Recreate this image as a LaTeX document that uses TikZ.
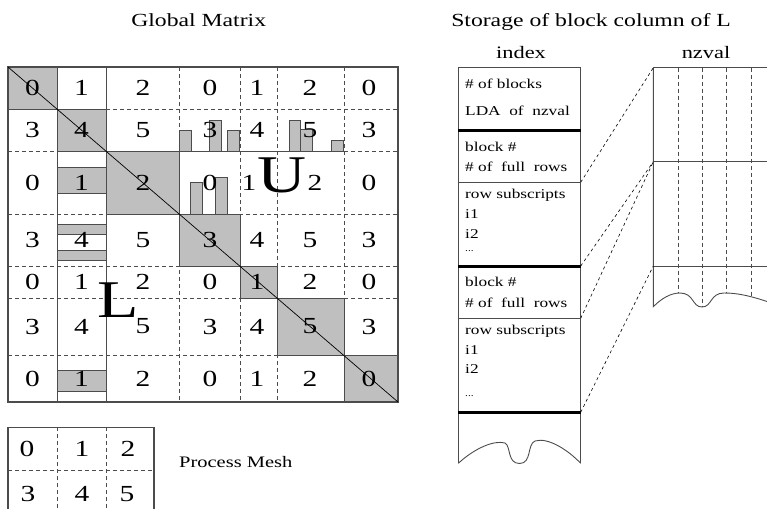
\documentclass[tikz,border=0pt]{standalone}
\usepackage{fontspec}
\setmainfont{Liberation Serif}[FakeStretch=1.28]
\definecolor{blockgray}{gray}{0.75}
\definecolor{rulegray}{gray}{0.3}
\tikzset{
  cellfill/.style={fill=blockgray},
  cellbox/.style={draw=rulegray, line width=0.9pt},
  barbox/.style={fill=blockgray, draw=rulegray, line width=0.8pt},
  gridsolid/.style={draw=rulegray, line width=0.9pt},
  griddash/.style={draw=rulegray, line width=0.8pt, dash pattern=on 4pt off 3pt},
  digit/.style={inner sep=0pt, font=\fontsize{23}{25}\selectfont},
  bigletter/.style={inner sep=0pt, font=\fontsize{53}{56}\selectfont},
  title/.style={inner sep=0pt, anchor=base, font=\fontsize{18.5}{20}\selectfont},
  colhead/.style={inner sep=0pt, anchor=base, font=\fontsize{17.5}{19}\selectfont},
  idxtext/.style={inner sep=0pt, anchor=base west, font=\fontsize{13.5}{15}\selectfont},
  heavyrule/.style={draw=black, line width=3pt},
  lightrule/.style={draw=rulegray, line width=0.9pt},
  linkline/.style={draw=black, line width=0.6pt, dash pattern=on 3pt off 3pt},
}
\begin{document}
\begin{tikzpicture}[x=1pt,y=-1pt]
\path[use as bounding box] (0,0) rectangle (767,508);
\clip (0,0) rectangle (767,508);

% ---------- titles ----------
\node[title] (tglobal) at (198.7,26.7) {Global Matrix};
\node[title] (tstore) at (591,26.7) {Storage of block column of L};
\node[colhead] (tindex) at (521,58.3) {index};
\node[colhead] (tnzval) at (706,58.3) {nzval};

% ---------- global matrix ----------
\coordinate (mtl) at (8,67);
\coordinate (mbr) at (398,402);

% diagonal blocks (fill)
\foreach \xa/\ya/\xb/\yb in {8/67/57/109, 57/109/106/151, 106/151/179/214,
    179/214/240/266, 240/266/277/298, 277/298/344/355, 344/355/398/402}
  \fill[cellfill] (\xa,\ya) rectangle (\xb,\yb);

% dashed grid
\foreach \x in {179,240,277,344}
  \draw[griddash] (\x,67) -- (\x,402);
\foreach \y in {109,151,214,266,298,355}
  \draw[griddash] (8,\y) -- (398,\y);

% solid grid lines
\draw[gridsolid] (57,67) -- (57,402);
\draw[gridsolid] (106,67) -- (106,402);
\draw[gridsolid] (106,151) -- (344,151);

% diagonal block outlines
\foreach \xa/\ya/\xb/\yb in {8/67/57/109, 57/109/106/151, 106/151/179/214,
    179/214/240/266, 240/266/277/298, 277/298/344/355, 344/355/398/402}
  \draw[cellbox] (\xa,\ya) rectangle (\xb,\yb);

% row bars of L
\draw[barbox] (57,167) rectangle (106,193.3);
\draw[barbox] (57,224) rectangle (106,234.3);
\draw[barbox] (57,250) rectangle (106,260);
\draw[barbox] (57,370) rectangle (106,391.7);

% column bars of U
\draw[barbox] (179,130.7) rectangle (191,151);
\draw[barbox] (209.3,120) rectangle (221.7,151);
\draw[barbox] (227.3,130.7) rectangle (239.3,151);
\draw[barbox] (289,120) rectangle (300.7,151);
\draw[barbox] (300.7,129) rectangle (312.7,151);
\draw[barbox] (331,140.7) rectangle (343.3,151);
\draw[barbox] (190.7,182.3) rectangle (202.7,214);
\draw[barbox] (215,177.3) rectangle (227.3,214);

% outer frame
\draw[gridsolid, line width=1.1pt] (mtl) rectangle (mbr);

% process numbers in the cells
\foreach \y [count=\r] in {88,130,182.5,240,282,326.5,378.5} {
  \foreach \x [count=\c] in {32.5,81.5,143,210,257,310,369} {
    \pgfmathtruncatemacro\v{mod(\c-1,3)+3*mod(\r-1,2)}
    \pgfmathsetmacro\dx{(\r==3)*((\c==5)*(-8)+(\c==6)*5)}
    \node[digit] (d-\r-\c) at (\x+\dx,\y) {\v};
  }
}

% main diagonal
\draw[black, line width=0.7pt] (mtl) -- (mbr);

% factor labels
\node[bigletter] (bigU) at (281.7,175.7) {U};
\node[bigletter] (bigL) at (118,300.5) {L};

% ---------- process mesh ----------
\draw[griddash] (8,470) -- (154,470);
\draw[griddash] (57,427.3) -- (57,515);
\draw[griddash] (106,427.3) -- (106,515);
\draw[gridsolid, line width=1.1pt] (8,515) -- (8,427.3) -- (154,427.3) -- (154,515);
\foreach \x/\v [count=\c] in {27/0,82/1,128/2}
  \node[digit] (p-1-\c) at (\x,449) {\v};
\foreach \x/\v [count=\c] in {28/3,82/4,127/5}
  \node[digit] (p-2-\c) at (\x,494) {\v};
\node[title, anchor=base west, font=\fontsize{16}{18}\selectfont] (tmesh) at (179,467.7) {Process Mesh};

% ---------- index array ----------
\draw[lightrule] (458.3,463.3) -- (458.3,67.7) -- (580.7,67.7) -- (580.7,463.3);
\draw[lightrule] (458.3,463.3) .. controls (475,448) and (494,440) .. (505,443)
  .. controls (511,446) and (507,463.5) .. (519.5,463.5)
  .. controls (532,463.5) and (527,444) .. (535,441)
  .. controls (548,437) and (568,450) .. (580.7,463.3);
\draw[heavyrule] (458.3,130) -- (580.7,130);
\draw[lightrule] (458.3,182.3) -- (580.7,182.3);
\draw[heavyrule] (458.3,266) -- (580.7,266);
\draw[lightrule] (458.3,318.3) -- (580.7,318.3);
\draw[heavyrule] (458.3,412.3) -- (580.7,412.3);

\node[idxtext] (ia1) at (465,88.3) {\# of blocks};
\node[idxtext] (ia2) at (465,115) {LDA~ of~ nzval};
\node[idxtext] (ib1) at (465,151) {block \#};
\node[idxtext] (ib2) at (465,171.7) {\# of~ full~ rows};
\node[idxtext] (ib3) at (465,198.3) {row subscripts};
\node[idxtext] (ib4) at (465,218.3) {i1};
\node[idxtext] (ib5) at (465,238.3) {i2};
\node[idxtext, font=\fontsize{9}{10}\selectfont] (ib6) at (465,251.7) {...};
\node[idxtext] (ic1) at (465,286.7) {block \#};
\node[idxtext] (ic2) at (465,307.3) {\# of~ full~ rows};
\node[idxtext] (ic3) at (465,334) {row subscripts};
\node[idxtext] (ic4) at (465,354) {i1};
\node[idxtext] (ic5) at (465,373.3) {i2};
\node[idxtext, font=\fontsize{9}{10}\selectfont] (ic6) at (465,396.7) {...};

% ---------- nzval array ----------
\foreach \x/\yend in {678.3/293.3, 702.7/307, 726.7/293.3, 751.7/296.5}
  \draw[griddash, line width=0.7pt] (\x,67.7) -- (\x,\yend);
\draw[lightrule] (653.3,67.7) -- (780,67.7);
\draw[lightrule] (653.3,161.7) -- (780,161.7);
\draw[lightrule] (653.3,266) -- (780,266);
\draw[lightrule] (653.3,67.7) -- (653.3,306.7)
  .. controls (662,298) and (671,293) .. (680,293)
  .. controls (694,293) and (692,307) .. (702,307)
  .. controls (712,307) and (710,293) .. (724,293)
  .. controls (740,293) and (755,297) .. (780,306);

% ---------- links from index to nzval ----------
\coordinate (ia) at (580.7,182.3);
\coordinate (ib) at (580.7,266);
\coordinate (ic) at (580.7,318.3);
\coordinate (id) at (580.7,412.3);
\coordinate (na) at (653.3,67.7);
\coordinate (nb) at (653.3,161.7);
\coordinate (nc) at (653.3,266);
\draw[linkline] (ia) -- (na);
\draw[linkline] (ib) -- (nb);
\draw[linkline] (ic) -- (nb);
\draw[linkline] (id) -- (nc);
\end{tikzpicture}
\end{document}
